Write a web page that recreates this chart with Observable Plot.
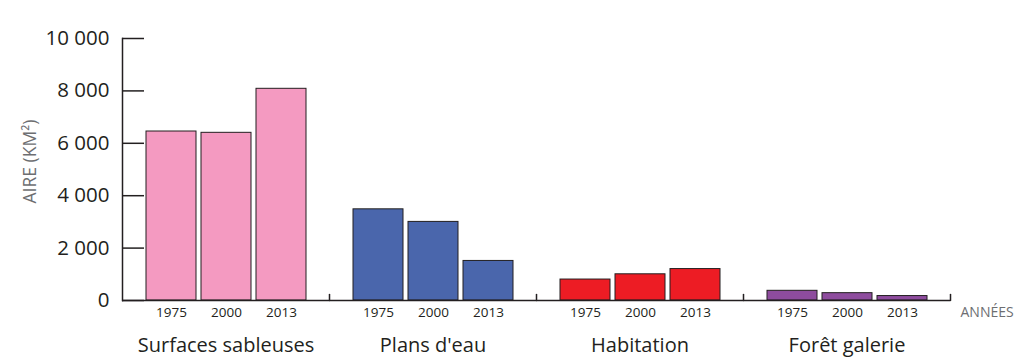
<!DOCTYPE html>
<html><head><meta charset="utf-8">
<script src="https://cdn.jsdelivr.net/npm/d3@7"></script>
<script src="https://cdn.jsdelivr.net/npm/@observablehq/plot@0.6"></script>
<style>body{margin:0;background:#fff}</style>
</head><body><div id="chart"></div>
<script>
const categories = ["Surfaces sableuses", "Plans d'eau", "Habitation", "Forêt galerie"];
const years = ["1975", "2000", "2013"];
const sableuses = [6450, 6400, 8080];
const plansEau = [3480, 3000, 1510];
const habitation = [800, 1000, 1200];
const foret = [370, 280, 170];
const colors = ["#f49ac1", "#4a66ac", "#ed1c24", "#8e4c9e"];
const yTicks = [0, 2000, 4000, 6000, 8000, 10000];
const yLabel = "AIRE (KM²)";
const xLabel = "ANNÉES";

const series = [sableuses, plansEau, habitation, foret];
const data = categories.flatMap((c, i) => years.map((y, j) => ({category: c, year: y, value: series[i][j]})));
const fmt = d => d3.format(",")(d).replace(/,/g, " ");
const ink = "#231f20";
const grey = "#6d6e71";
const tickShape = {draw(ctx, l) { ctx.moveTo(0, 0); ctx.lineTo(0, -l); }};

const chart = Plot.plot({
  width: 1016, height: 358,
  marginLeft: 121, marginRight: 66, marginTop: 38, marginBottom: 58,
  style: {fontFamily: "'Open Sans', sans-serif", background: "#fff", color: ink},
  fx: {domain: categories, padding: 0, label: null},
  x: {domain: years, paddingInner: 0.1, paddingOuter: 0.43, label: null},
  y: {domain: [0, 10000], label: null},
  color: {domain: categories, range: colors},
  marks: [
    Plot.barY(data, {fx: "category", x: "year", y: "value", fill: "category", stroke: ink, strokeWidth: 1}),
    Plot.ruleY([0], {stroke: ink, strokeWidth: 1.5}),
    Plot.frame({anchor: "left", facetAnchor: "left", stroke: ink, strokeWidth: 1.5}),
    Plot.vector([0], {frameAnchor: "bottom-right", length: 6, anchor: "start", stroke: ink, strokeWidth: 1.5, shape: tickShape}),
    Plot.axisY(yTicks, {tickSize: -22, tickPadding: 35, tickFormat: fmt, fontSize: 20.5, color: ink, strokeWidth: 1.5, label: null}),
    Plot.axisX({tickSize: 0, tickPadding: 7, fontSize: 13.5, color: ink, label: null}),
    Plot.axisFx({anchor: "bottom", tickSize: 0, tickPadding: 37.5, fontSize: 20, color: ink, label: null}),
    Plot.text([{category: categories[0], t: yLabel}], {fx: "category", text: "t", frameAnchor: "left", rotate: -90, dx: -92, dy: 34, fontSize: 17.5, fill: grey}),
    Plot.text([{category: categories[3], t: xLabel}], {fx: "category", text: "t", frameAnchor: "bottom-right", textAnchor: "start", lineAnchor: "top", dx: 10, dy: 7, fontSize: 14, fill: grey})
  ]
});
document.getElementById("chart").appendChild(chart);
</script>
</body></html>
